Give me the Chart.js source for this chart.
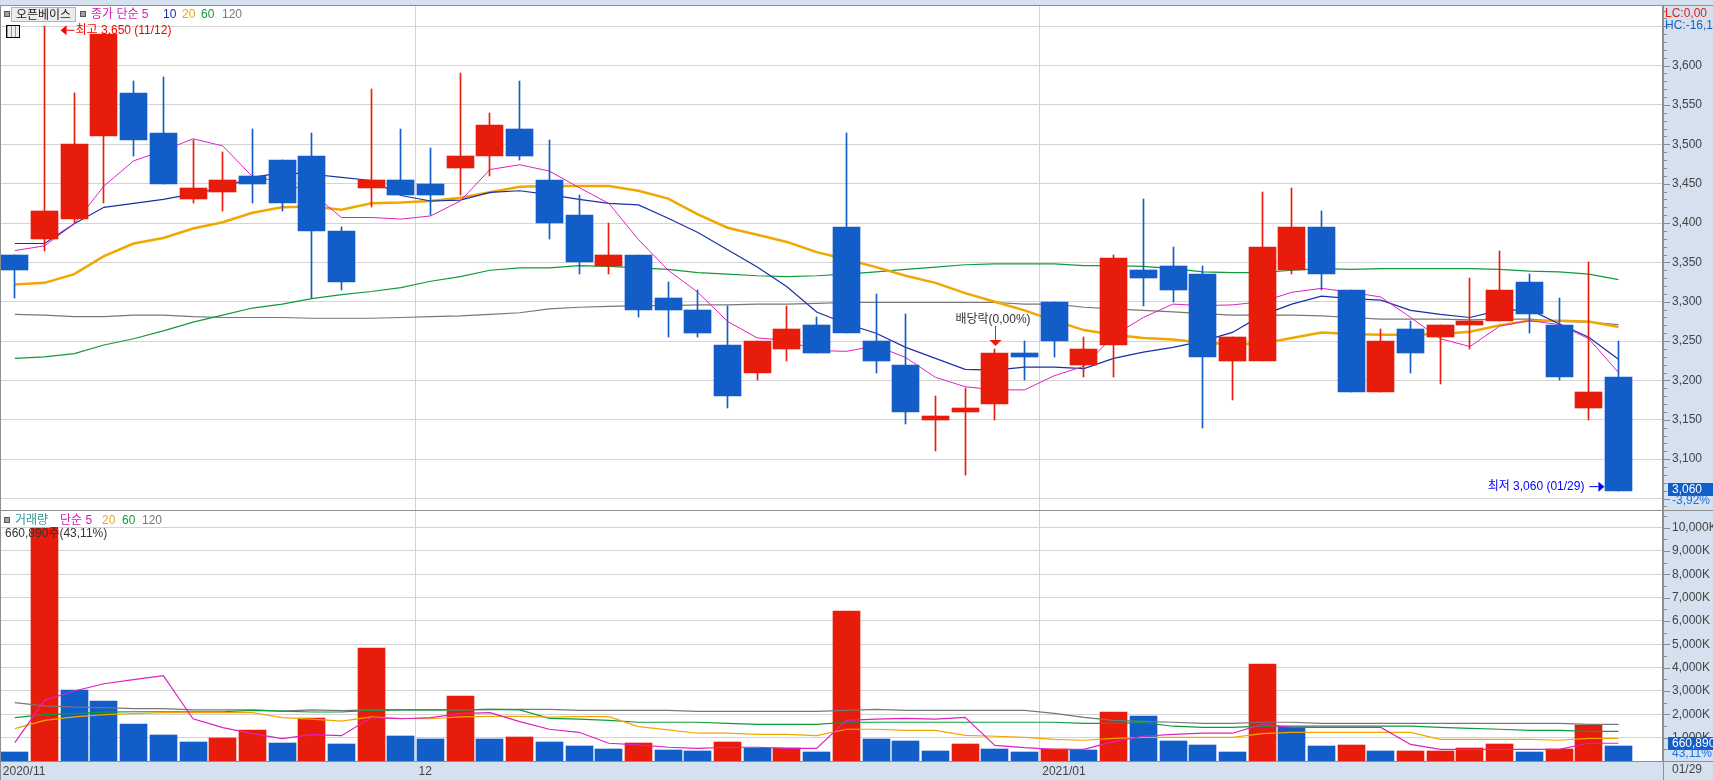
<!DOCTYPE html>
<html lang="ko">
<head>
<meta charset="utf-8">
<title>오픈베이스</title>
<script src="https://cdn.jsdelivr.net/npm/chart.js@4/dist/chart.umd.min.js"></script>
<style>
  html, body { margin: 0; padding: 0; width: 1713px; height: 780px; overflow: hidden; background: #d5e1ef; }
  body, .t { font-family: "Liberation Sans", "Noto Sans CJK KR", sans-serif; font-size: 12px; }
  .abs { position: absolute; }
  .t { position: absolute; white-space: nowrap; line-height: 14px; }
  #plot { position: absolute; left: 0; top: 5px; width: 1663px; height: 756px; background: #fff; }
  canvas { position: absolute; left: 0; display: block; }
  .sq { position: absolute; width: 4px; height: 4px; background: #a0a0a0; border: 1px solid #555; }
  .rule { position: absolute; background: #8f8f8f; }
</style>
</head>
<body>
<div id="plot"></div>
<div style="position:absolute;left:0;top:5px;width:1713px;height:506px"><canvas id="priceChart"></canvas></div>
<div style="position:absolute;left:0;top:511px;width:1713px;height:269px"><canvas id="volumeChart"></canvas></div>

<div class="rule" style="left:0;top:5px;width:1713px;height:1px"></div>
<div class="rule" style="left:0;top:510px;width:1713px;height:1px"></div>
<div class="rule" style="left:0;top:5px;width:1px;height:775px"></div>

<div class="sq" style="left:4px;top:11px"></div>
<div class="t" style="left:11px;top:7px;width:63px;height:13px;border:1px solid #b4b4b4;background:#ececec;text-align:center;color:#222">오픈베이스</div>
<div class="sq" style="left:80px;top:11px"></div>
<div class="t" style="left:91px;top:7px;color:#d41cb4">종가 단순 5</div>
<div class="t" style="left:163px;top:7px;color:#1a2fa8">10</div>
<div class="t" style="left:182px;top:7px;color:#f0a800">20</div>
<div class="t" style="left:201px;top:7px;color:#0f9a3c">60</div>
<div class="t" style="left:222px;top:7px;color:#777">120</div>
<div class="abs" style="left:6px;top:25px;width:12px;height:11px;border:1px solid #000;background:repeating-linear-gradient(90deg,#999 0 1px,#eee 1px 4px)"></div>

<div class="sq" style="left:4px;top:517px"></div>
<div class="t" style="left:15px;top:513px;color:#2a9a9a">거래량</div>
<div class="t" style="left:60px;top:513px;color:#d41cb4">단순 5</div>
<div class="t" style="left:102px;top:513px;color:#f0a800">20</div>
<div class="t" style="left:122px;top:513px;color:#0f9a3c">60</div>
<div class="t" style="left:142px;top:513px;color:#777">120</div>
<div class="t" style="left:5px;top:526px;color:#333">660,890주(43,11%)</div>

<div class="t" style="left:1665px;top:6px;color:#e81c0a">LC:0,00</div>
<div class="t" style="left:1665px;top:18px;color:#135dc9">HC:-16,1</div>

<script>
// price candles, 2020/11/11 ~ 2021/01/29
const dates = [
  "11/11", "11/12", "11/13", "11/16", "11/17", "11/18", "11/19", "11/20", "11/23", "11/24", "11/25", "11/26", "11/27", "11/30",
  "12/01", "12/02", "12/03", "12/04", "12/07", "12/08", "12/09", "12/10", "12/11", "12/14", "12/15", "12/16", "12/17", "12/18", "12/21", "12/22", "12/23", "12/24", "12/28", "12/29", "12/30",
  "01/04", "01/05", "01/06", "01/07", "01/08", "01/11", "01/12", "01/13", "01/14", "01/15", "01/18", "01/19", "01/20", "01/21", "01/22", "01/25", "01/26", "01/27", "01/28", "01/29"
];
const tickDates = ["11/11", "12/01", "01/04"];
const tickTexts = ["2020/11", "12", "2021/01"];

const opens = [3360,3380,3405,3510,3565,3515,3430,3440,3460,3480,3485,3390,3445,3455,3450,3470,3485,3520,3455,3410,3345,3360,3305,3290,3245,3210,3240,3270,3395,3250,3220,3150,3160,3170,3235,3300,3220,3245,3340,3345,3335,3225,3225,3340,3395,3315,3185,3265,3255,3270,3275,3325,3270,3165,3205];
const closes = [3340,3415,3500,3640,3505,3450,3445,3455,3450,3425,3390,3325,3455,3435,3435,3485,3525,3485,3400,3350,3360,3290,3290,3260,3180,3250,3265,3235,3260,3225,3160,3155,3165,3235,3230,3250,3240,3355,3330,3315,3230,3255,3370,3395,3335,3185,3250,3235,3270,3275,3315,3285,3205,3185,3060];
const highs = [3360,3650,3565,3640,3580,3585,3505,3490,3520,3480,3515,3395,3570,3520,3495,3590,3540,3580,3505,3435,3400,3360,3325,3315,3295,3250,3295,3280,3515,3310,3285,3180,3190,3240,3250,3300,3255,3360,3430,3370,3345,3255,3440,3445,3415,3315,3265,3275,3270,3330,3365,3335,3305,3350,3250];
const lows = [3305,3365,3400,3425,3485,3450,3425,3415,3425,3415,3305,3315,3420,3435,3410,3435,3460,3480,3380,3335,3335,3280,3255,3255,3165,3200,3225,3235,3260,3210,3145,3110,3080,3150,3200,3230,3205,3205,3295,3300,3140,3175,3225,3335,3315,3185,3185,3210,3195,3240,3275,3260,3200,3150,3060];

const priceMa5 = [3365,3371,3399,3447,3479,3492,3507,3498,3459,3452,3438,3407,3407,3405,3409,3428,3468,3474,3466,3445,3425,3379,3340,3312,3275,3254,3251,3238,3237,3244,3229,3204,3192,3188,3188,3206,3218,3257,3280,3297,3295,3296,3300,3312,3317,3312,3306,3280,3253,3243,3269,3276,3271,3253,3210];
const priceMa10 = [3374,3374,3399,3420,3425,3430,3437,3445,3458,3464,3462,3458,3454,3435,3428,3429,3439,3441,3436,3430,3425,3423,3406,3388,3366,3344,3319,3287,3272,3260,3242,3228,3214,3213,3217,3217,3215,3228,3236,3242,3250,3261,3283,3297,3307,3304,3302,3289,3284,3280,3289,3290,3272,3255,3227];
const priceMa20 = [3322,3324,3335,3358,3374,3381,3393,3401,3413,3420,3421,3417,3425,3426,3428,3432,3439,3446,3447,3447,3447,3441,3431,3411,3394,3385,3376,3363,3354,3344,3333,3324,3311,3300,3289,3276,3264,3258,3254,3252,3248,3246,3247,3254,3261,3259,3258,3258,3259,3262,3270,3276,3276,3275,3268];
const priceMa60 = [3228,3230,3234,3245,3253,3263,3274,3283,3292,3297,3304,3309,3313,3318,3326,3332,3340,3343,3343,3346,3345,3343,3341,3337,3335,3333,3332,3333,3335,3338,3341,3344,3347,3348,3348,3348,3346,3346,3345,3342,3338,3337,3337,3340,3342,3341,3342,3342,3342,3342,3341,3339,3338,3335,3328];
const priceMa120 = [3284,3283,3281,3281,3283,3283,3281,3280,3280,3280,3279,3279,3279,3280,3281,3282,3284,3286,3291,3293,3294,3295,3295,3296,3296,3297,3297,3298,3299,3299,3299,3299,3299,3299,3297,3297,3293,3291,3289,3287,3285,3283,3283,3283,3282,3280,3278,3278,3278,3277,3278,3278,3275,3274,3271];

// volume, in thousands of shares
const volumes = [370,10000,3030,2560,1570,1100,800,970,1310,760,1830,715,4830,1060,930,2770,940,1030,815,640,515,770,470,430,815,555,560,385,6430,945,860,430,730,515,385,515,470,2100,1930,860,685,385,4160,1450,640,685,430,435,440,555,730,385,515,1540,661];
const volMa5 = [785,2600,3000,3310,3490,3660,1810,1430,1170,960,1130,1085,1860,1810,1860,2030,2070,1690,1360,1230,760,690,590,540,590,590,540,540,1740,1790,1830,1790,1870,670,570,500,500,830,1060,1140,1190,1190,1570,1440,1440,1440,1440,710,500,500,500,500,500,760,760];
const volMa20 = [1390,1740,1890,1990,2030,2070,2070,2070,2070,1860,1790,1710,1890,1830,1810,1890,1910,1910,1880,1900,1900,1470,1330,1190,1190,1140,1140,1090,1360,1360,1310,1310,1100,1060,1010,930,890,970,1010,1010,1010,1010,1170,1230,1230,1230,1230,1230,930,930,930,930,890,970,970];
const volMa60 = [1860,1990,2030,2090,2110,2110,2110,2110,2170,2140,2100,2100,2170,2190,2190,2190,2210,2190,1830,1790,1740,1660,1660,1660,1610,1570,1570,1570,1660,1660,1660,1660,1660,1660,1660,1660,1610,1610,1640,1490,1440,1440,1490,1490,1490,1490,1490,1490,1440,1400,1360,1310,1310,1270,1270];
const volMa120 = [2500,2360,2310,2290,2240,2240,2190,2190,2190,2140,2190,2160,2190,2190,2190,2190,2210,2210,2210,2170,2170,2170,2170,2130,2130,2130,2130,2130,2170,2210,2170,2170,2170,2170,2170,2040,1870,1740,1700,1660,1610,1610,1660,1660,1610,1610,1610,1610,1610,1610,1610,1610,1610,1570,1570];

const priceLabels = [3100, 3150, 3200, 3250, 3300, 3350, 3400, 3450, 3500, 3550, 3600];
const volumeLabels = [1000, 2000, 3000, 4000, 5000, 6000, 7000, 8000, 9000, 10000];

const RED = "#e81c0a";
const BLUE = "#135dc9";
const PINK = "#e020c0";
const NAVY = "#1a2fa8";
const ORANGE = "#f0a800";
const GREEN = "#0f9a3c";
const GREY = "#777777";
const GRID = "#d4d4d4";
const FONT = '12px "Liberation Sans", "Noto Sans CJK KR", sans-serif';
const TEXT_FONT = { family: '"Liberation Sans", "Noto Sans CJK KR", sans-serif', size: 12 };

// one empty slot after the last day, same as the right gap in the HTS screen
const slots = dates.concat([""]);

const candleColors = opens.map((o, i) => (closes[i] >= o ? RED : BLUE));
const volumeColors = volumes.map((v, i) => (i > 0 && v >= volumes[i - 1] ? RED : BLUE));

function lineSet(label, data, color, width, order) {
  return { type: "line", label, data, borderColor: color, borderWidth: width, pointRadius: 0, tension: 0, order };
}

// bars land on whole pixels so edges stay hard
const snapBars = {
  id: "snapBars",
  beforeDatasetsDraw(chart) {
    chart.data.datasets.forEach((ds, d) => {
      if (ds.type !== "bar") return;
      chart.getDatasetMeta(d).data.forEach((el) => {
        const half = el.width / 2;
        el.x = Math.round(el.x - half) + half;
        el.y = Math.round(el.y);
        el.base = Math.round(el.base);
      });
    });
  },
};

function axisTicks(chart, scaleId, step, majorStep) {
  const scale = chart.scales[scaleId];
  const ctx = chart.ctx;
  ctx.save();
  ctx.strokeStyle = "#8a8a8a";
  ctx.lineWidth = 1;
  const first = Math.ceil(scale.min / step) * step;
  for (let v = first; v <= scale.max; v += step) {
    const y = Math.round(scale.getPixelForValue(v)) + 0.5;
    const len = v % majorStep === 0 ? 6 : 3;
    ctx.beginPath();
    ctx.moveTo(scale.left + 1, y);
    ctx.lineTo(scale.left + 1 + len, y);
    ctx.stroke();
  }
  ctx.restore();
}

function valueTag(chart, y, value, percent, percentY) {
  const ctx = chart.ctx;
  ctx.save();
  ctx.fillStyle = BLUE;
  ctx.fillRect(1668, y, 45, 13);
  ctx.font = FONT;
  ctx.textBaseline = "middle";
  ctx.fillStyle = "#fff";
  ctx.fillText(value, 1672, y + 7);
  ctx.fillStyle = "#1f6fe0";
  ctx.fillText(percent, 1672, percentY);
  ctx.restore();
}

const priceNotes = {
  id: "priceNotes",
  afterDraw(chart) {
    const ctx = chart.ctx;
    const x = chart.scales.x;
    const y = chart.scales.y;
    axisTicks(chart, "y", 10, 50);
    ctx.save();
    ctx.font = FONT;
    ctx.textBaseline = "middle";

    // high marker
    const hi = dates.indexOf("11/12");
    const hx = x.getPixelForValue(hi) + 16;
    const hy = y.getPixelForValue(highs[hi]) + 4;
    ctx.fillStyle = "#ff0000";
    ctx.strokeStyle = "#ff0000";
    ctx.beginPath(); ctx.moveTo(hx, hy); ctx.lineTo(hx + 6, hy - 5); ctx.lineTo(hx + 6, hy + 5); ctx.fill();
    ctx.fillRect(hx + 6, hy - 0.5, 8, 1);
    ctx.fillText("최고 3,650 (11/12)", hx + 15, hy);

    // low marker
    const lo = dates.indexOf("01/29");
    const lx = x.getPixelForValue(lo) - 14;
    const ly = y.getPixelForValue(lows[lo]) - 4;
    ctx.fillStyle = "#0000ff";
    ctx.beginPath(); ctx.moveTo(lx, ly); ctx.lineTo(lx - 6, ly - 5); ctx.lineTo(lx - 6, ly + 5); ctx.fill();
    ctx.fillRect(lx - 15, ly - 0.5, 9, 1);
    ctx.textAlign = "right";
    ctx.fillText("최저 3,060 (01/29)", lx - 20, ly);

    // ex-dividend marker
    const ex = dates.indexOf("12/29");
    const ax = Math.round(x.getPixelForValue(ex));
    const ay = y.getPixelForValue(highs[ex]) - 3;
    ctx.fillStyle = RED;
    ctx.fillRect(ax, ay - 20, 1, 14);
    ctx.beginPath(); ctx.moveTo(ax - 5.5, ay - 6); ctx.lineTo(ax + 6.5, ay - 6); ctx.lineTo(ax + 0.5, ay); ctx.fill();
    ctx.textAlign = "center";
    ctx.fillStyle = "#333";
    ctx.fillText("배당락(0,00%)", ax - 2, ay - 26);
    ctx.restore();

    valueTag(chart, Math.round(y.getPixelForValue(closes[closes.length - 1])) - 8, "3,060", "-3,92%", 496);
  },
};

const volumeNotes = {
  id: "volumeNotes",
  afterDraw(chart) {
    const y = chart.scales.y;
    axisTicks(chart, "y", 500, 1000);
    valueTag(chart, Math.round(y.getPixelForValue(volumes[volumes.length - 1])) - 9, "660,890", "43,11%", 243);
    const ctx = chart.ctx;
    ctx.save();
    ctx.font = FONT;
    ctx.fillStyle = "#444";
    ctx.textBaseline = "middle";
    ctx.fillText("01/29", 1672, 259);
    ctx.fillStyle = "#8f8f8f";
    ctx.fillRect(1663, 250, 1, 19);
    ctx.fillRect(0, 250, 1713, 1);
    ctx.restore();
  },
};

function noPadding(axis) {
  axis.paddingTop = 0;
  axis.paddingBottom = 0;
  axis.paddingLeft = 0;
  axis.paddingRight = 0;
}

function xAxis(show) {
  return {
    type: "category",
    offset: true,
    display: true,
    afterFit(axis) { axis.height = show ? 19 : 0; noPadding(axis); },
    border: { display: false },
    grid: {
      offset: true,
      drawTicks: false,
      color: (c) => (tickDates.includes(slots[c.index]) && c.index > 0 ? GRID : "rgba(0,0,0,0)"),
    },
    ticks: {
      display: show,
      autoSkip: false,
      maxRotation: 0,
      minRotation: 0,
      align: "start",
      labelOffset: -12,
      padding: 3,
      color: "#444",
      font: TEXT_FONT,
      callback(value, index) {
        const at = tickDates.indexOf(slots[index]);
        return at >= 0 ? tickTexts[at] : "";
      },
    },
  };
}

function yAxis(min, max, step, majorStep, labels, format) {
  return {
    position: "right",
    min,
    max,
    afterFit(axis) { axis.width = 50; noPadding(axis); },
    afterBuildTicks(axis) {
      const list = [];
      for (let v = Math.ceil(min / step) * step; v <= max; v += step) list.push({ value: v });
      axis.ticks = list;
    },
    border: { color: "#8f8f8f", width: 2 },
    grid: {
      drawTicks: false,
      color: (c) => (c.tick && c.tick.value % majorStep === 0 ? GRID : "rgba(0,0,0,0)"),
    },
    ticks: {
      autoSkip: false,
      padding: 9,
      color: "#444",
      font: TEXT_FONT,
      callback: (v) => (labels.includes(v) ? format(v) : ""),
    },
  };
}

function baseOptions(scales) {
  return {
    responsive: false,
    animation: false,
    events: [],
    layout: { padding: 0 },
    plugins: { legend: { display: false }, tooltip: { enabled: false } },
    scales,
  };
}

function makeCanvas(id, height) {
  const el = document.getElementById(id);
  el.width = 1713;
  el.height = height;
  el.style.width = "1713px";
  el.style.height = height + "px";
  return el;
}

const priceChart = new Chart(makeCanvas("priceChart", 505), {
  type: "bar",
  data: {
    labels: slots,
    datasets: [
      { type: "bar", label: "고저", data: lows.map((l, i) => [l, highs[i]]), backgroundColor: candleColors, barThickness: 1, grouped: false, order: 2 },
      { type: "bar", label: "시종", data: opens.map((o, i) => [o, closes[i]]), backgroundColor: candleColors, barThickness: 27, grouped: false, order: 1 },
      lineSet("5", priceMa5, PINK, 1, 4),
      lineSet("10", priceMa10, NAVY, 1.2, 5),
      lineSet("20", priceMa20, ORANGE, 2.5, 6),
      lineSet("60", priceMa60, GREEN, 1.2, 7),
      lineSet("120", priceMa120, GREY, 1.2, 8),
    ],
  },
  options: baseOptions({
    x: xAxis(false),
    y: yAxis(3035.4, 3677, 10, 50, priceLabels, (v) => v.toLocaleString("en-US")),
  }),
  plugins: [snapBars, priceNotes],
});

const volumeChart = new Chart(makeCanvas("volumeChart", 269), {
  type: "bar",
  data: {
    labels: slots,
    datasets: [
      { type: "bar", label: "거래량", data: volumes, backgroundColor: volumeColors, barThickness: 27, grouped: false, order: 9 },
      lineSet("120", volMa120, GREY, 1.2, 8),
      lineSet("60", volMa60, GREEN, 1.2, 7),
      lineSet("20", volMa20, ORANGE, 1.2, 6),
      lineSet("5", volMa5, PINK, 1.2, 5),
    ],
  },
  options: baseOptions({
    x: xAxis(true),
    y: yAxis(0, 10711, 500, 1000, volumeLabels, (v) => v.toLocaleString("en-US") + "K"),
  }),
  plugins: [snapBars, volumeNotes],
});
</script>
</body>
</html>
